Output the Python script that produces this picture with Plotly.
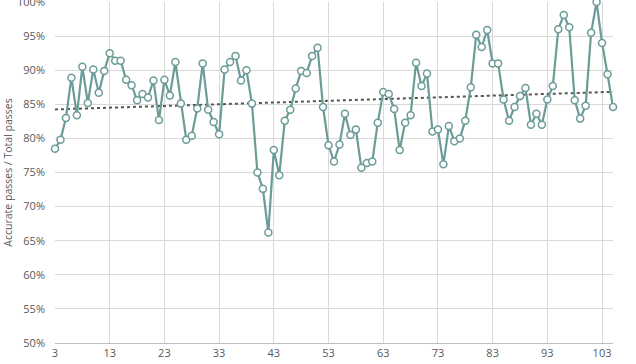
import numpy as np
import plotly.graph_objects as go

match_no = list(range(3, 106))
accuracy = [78.5, 79.8, 83.0, 88.9, 83.4, 90.5, 85.2, 90.1, 86.7, 89.9,
            92.5, 91.4, 91.4, 88.6, 87.8, 85.6, 86.5, 86.0, 88.5, 82.7,
            88.6, 86.3, 91.2, 85.1, 79.8, 80.4, 84.4, 91.0, 84.2, 82.4,
            80.6, 90.1, 91.2, 92.1, 88.5, 90.0, 85.1, 75.0, 72.6, 66.2,
            78.3, 74.6, 82.6, 84.2, 87.3, 89.9, 89.6, 92.1, 93.3, 84.6,
            79.0, 76.6, 79.1, 83.6, 80.5, 81.3, 75.7, 76.4, 76.6, 82.3,
            86.8, 86.5, 84.3, 78.3, 82.3, 83.4, 91.1, 87.7, 89.5, 81.0,
            81.3, 76.2, 81.8, 79.6, 80.0, 82.6, 87.5, 95.2, 93.4, 95.9,
            91.0, 91.0, 85.7, 82.6, 84.6, 86.2, 87.4, 82.0, 83.6, 82.0,
            85.7, 87.7, 96.0, 98.1, 96.3, 85.6, 82.9, 84.8, 95.5, 100.0,
            94.0, 89.4, 84.6]
acc = [v / 100 for v in accuracy]
x_ticks = list(range(3, 104, 10))
y_ticks = [i / 100 for i in range(50, 101, 5)]

slope, icpt = np.polyfit(match_no, acc, 1)
trend = [slope * x + icpt for x in match_no]

line_col = "#6b9c98"
fig = go.Figure()
fig.add_trace(go.Scatter(x=match_no, y=trend, mode="lines",
                         line=dict(color="#555555", width=2, dash="dot"),
                         hoverinfo="skip", showlegend=False))
fig.add_trace(go.Scatter(x=match_no, y=acc, mode="lines+markers",
                         line=dict(color=line_col, width=2.2),
                         marker=dict(size=7, color="white",
                                     line=dict(color=line_col, width=1.5)),
                         showlegend=False, cliponaxis=False))

fig.update_layout(
    width=636, height=364,
    margin=dict(l=55, r=23, t=2, b=21, autoexpand=False),
    plot_bgcolor="white", paper_bgcolor="white",
    font=dict(family="Open Sans, DejaVu Sans, sans-serif", size=11, color="#595959"),
    xaxis=dict(range=[3, 105], tickvals=x_ticks, showgrid=True, gridcolor="#d9d9d9",
               gridwidth=1, zeroline=False, showline=True, linecolor="#bfbfbf",
               linewidth=1, ticks="", tickfont=dict(size=11, color="#595959"),
               ticklabeloverflow="allow", automargin=False),
    yaxis=dict(range=[0.5, 1.0], tickvals=y_ticks, tickformat=".0%",
               showgrid=True, gridcolor="#d9d9d9", gridwidth=1, zeroline=False,
               showline=False, ticks="", ticklen=0, ticklabelstandoff=9,
               ticklabeloverflow="allow", automargin=False,
               tickfont=dict(size=11, color="#595959"),
               title=dict(text="Accurate passes / Total passes",
                          font=dict(size=10.5, color="#595959"), standoff=2)),
)
fig.write_html("out.html")
